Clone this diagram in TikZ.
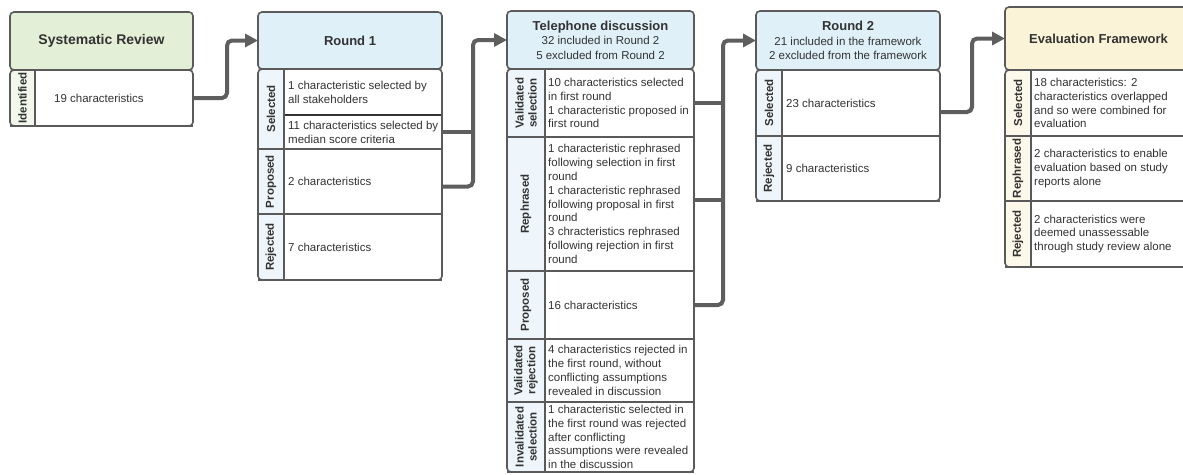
\documentclass[tikz,border=0pt]{standalone}
\usepackage{fontspec}
\setmainfont{Liberation Sans}
\usetikzlibrary{arrows.meta}
\definecolor{bordc}{HTML}{5A5A5A}
\definecolor{txtc}{HTML}{333333}
\definecolor{connc}{HTML}{5E5E5E}
\definecolor{greenh}{HTML}{E3EFD6}
\definecolor{greens}{HTML}{F3F8EC}
\definecolor{blueh}{HTML}{DFF0F9}
\definecolor{blues}{HTML}{EEF6FB}
\definecolor{yellh}{HTML}{FBF3D8}
\definecolor{yells}{HTML}{FDF9EA}
\tikzset{
 hdr/.style={draw=bordc, line width=1.6pt, rounded corners=4pt, inner sep=0pt, outer sep=0pt, anchor=north west, align=center, text=txtc, font=\fontsize{11.5}{14.5}\selectfont},
 cellbox/.style={inner sep=0pt, outer sep=0pt, anchor=north west},
 celltext/.style={inner sep=0pt, anchor=west, align=left, text=txtc, font=\fontsize{11.5}{13.8}\selectfont},
 sidelab/.style={inner sep=0pt, rotate=90, align=center, text=txtc, font=\fontsize{11.5}{13}\selectfont\bfseries},
 divider/.style={draw=bordc, line width=1.3pt},
 boxline/.style={draw=bordc, line width=1.6pt},
 conn/.style={draw=connc, line width=4pt, rounded corners=5pt, -{Triangle[length=13pt,width=13pt]}},
 connj/.style={draw=connc, line width=4pt},
}
% #1 x1, #2 xs, #3 x2, #4 y1, #5 y2, #6 side colour
\newcommand\mkbody[6]{%
 \fill[white, rounded corners=4pt] (#1,#4) rectangle (#3,#5);
 \begin{scope}
 \clip[rounded corners=4pt] (#1,#4) rectangle (#3,#5);
 \fill[#6] (#1,#4) rectangle (#2,#5);
 \end{scope}}
\newcommand\mkframe[5]{%
 \draw[boxline, rounded corners=4pt] (#1,#4) rectangle (#3,#5);
 \draw[boxline] (#2,#4) -- (#2,#5);}
% #1 name, #2 x1, #3 xs, #4 x2, #5 y1, #6 y2, #7 label, #8 text, #9 text offset
\newcommand\mkrow[9]{%
 \pgfmathsetmacro\rowW{#4-#3}%
 \pgfmathsetmacro\rowH{#6-#5}%
 \node[cellbox, minimum width=\rowW pt, minimum height=\rowH pt] (#1) at (#3,#5) {};
 \node[celltext] (#1t) at ([xshift=#9pt]#1.west) {#8};
 \node[sidelab] (#1s) at ({(#2+#3)/2},{(#5+#6)/2}) {#7};
 \draw[divider] (#2,#6) -- (#4,#6);}
\begin{document}
\begin{tikzpicture}[x=1pt,y=-1pt]
\useasboundingbox (0,0) rectangle (1183,474);
\clip (0,0) rectangle (1183,474);
\fill[white] (0,0) rectangle (1183,474);

% ---------- Systematic Review ----------
\node[hdr, fill=greenh, minimum width=183pt, minimum height=58pt] (srh) at (10,12) {\fontsize{14}{16}\selectfont\bfseries Systematic Review};
\mkbody{10}{35}{193}{70}{126}{greens}
\mkrow{sr1}{10}{35}{193}{70}{126}{Identified}{19 characteristics}{19}
\mkframe{10}{35}{193}{70}{126}

% ---------- Round 1 ----------
\node[hdr, fill=blueh, minimum width=184pt, minimum height=57pt] (r1h) at (258,12) {\fontsize{13}{15}\selectfont\bfseries Round 1};
\mkbody{258}{284}{442}{69}{280}{blues}
\node[cellbox, minimum width=158pt, minimum height=46pt] (r1s1) at (284,69) {};
\node[celltext] (r1s1t) at ([xshift=4pt]r1s1.west) {1 characteristic selected by\\all stakeholders};
\draw[divider, line width=1.6pt, draw=black!80] (284,115) -- (442,115);
\node[cellbox, minimum width=158pt, minimum height=34pt] (r1s2) at (284,115) {};
\node[celltext] (r1s2t) at ([xshift=4pt]r1s2.west) {11 characteristics selected by\\median score criteria};
\node[sidelab] (r1ss) at (271,109) {Selected};
\draw[divider] (258,149) -- (442,149);
\mkrow{r1p}{258}{284}{442}{149}{214}{Proposed}{2 characteristics}{4}
\mkrow{r1r}{258}{284}{442}{214}{280}{Rejected}{7 characteristics}{4}
\mkframe{258}{284}{442}{69}{280}

% ---------- Telephone discussion ----------
\node[hdr, fill=blueh, minimum width=187pt, minimum height=58pt] (tdh) at (507,11) {{\fontsize{13}{15}\selectfont\bfseries Telephone discussion}\\32 included in Round 2\\5 excluded from Round 2};
\mkbody{507}{545}{694}{69}{472}{blues}
\mkrow{tdvs}{507}{545}{694}{69}{137}{Validated\\selection}{10 characteristics selected\\in first round\\1 characteristic proposed in\\first round}{3}
\mkrow{tdr}{507}{545}{694}{137}{271}{Rephrased}{1 characteristic rephrased\\following selection in first\\round\\1 characteristic rephrased\\following proposal in first\\round\\3 chracteristics rephrased\\following rejection in first\\round}{3}
\mkrow{tdp}{507}{545}{694}{271}{339}{Proposed}{16 characteristics}{3}
\mkrow{tdvr}{507}{545}{694}{339}{402}{Validated\\rejection}{4 characteristics rejected in\\the first round, without\\conflicting assumptions\\revealed in discussion}{3}
\mkrow{tdis}{507}{545}{694}{402}{472}{Invalidated\\selection}{1 characteristic selected in\\the first round was rejected\\after conflicting\\assumptions were revealed\\in the discussion}{3}
\mkframe{507}{545}{694}{69}{472}

% ---------- Round 2 ----------
\node[hdr, fill=blueh, minimum width=184pt, minimum height=59pt] (r2h) at (756,11) {{\fontsize{13}{15}\selectfont\bfseries Round 2}\\21 included in the framework\\2 excluded from the framework};
\mkbody{756}{782}{940}{70}{201}{blues}
\mkrow{r2s}{756}{782}{940}{70}{136}{Selected}{23 characteristics}{4}
\mkrow{r2r}{756}{782}{940}{136}{201}{Rejected}{9 characteristics}{4}
\mkframe{756}{782}{940}{70}{201}

% ---------- Evaluation Framework ----------
\node[hdr, fill=yellh, minimum width=187pt, minimum height=63pt] (efh) at (1005,7) {\fontsize{13}{15}\selectfont\bfseries Evaluation Framework};
\mkbody{1005}{1031}{1192}{70}{267}{yells}
\mkrow{efs}{1005}{1031}{1192}{70}{136}{Selected}{18 characteristics: 2\\characteristics overlapped\\and so were combined for\\evaluation}{3}
\mkrow{efr}{1005}{1031}{1192}{136}{201}{Rephrased}{2 characteristics to enable\\evaluation based on study\\reports alone}{3}
\mkrow{efj}{1005}{1031}{1192}{201}{267}{Rejected}{2 characteristics were\\deemed unassessable\\through study review alone}{3}
\mkframe{1005}{1031}{1192}{70}{267}

% ---------- Connectors ----------
\draw[conn] (sr1.east) -- ++(34,0) |- (r1h.west);
\draw[connj] (r1s2.east) -- ++(31,0);
\draw[conn] ([yshift=-5pt]r1p.east) -- ++(31,0) |- (tdh.west);
\draw[connj] (tdvs.east) -- ++(29,0);
\draw[connj] ([yshift=4pt]tdr.east) -- ++(29,0);
\draw[conn] (tdp.east) -- ++(29,0) |- (r2h.west);
\draw[conn] ([yshift=-9pt]r2s.east) -- ++(32,0) |- (efh.west);
\end{tikzpicture}
\end{document}
